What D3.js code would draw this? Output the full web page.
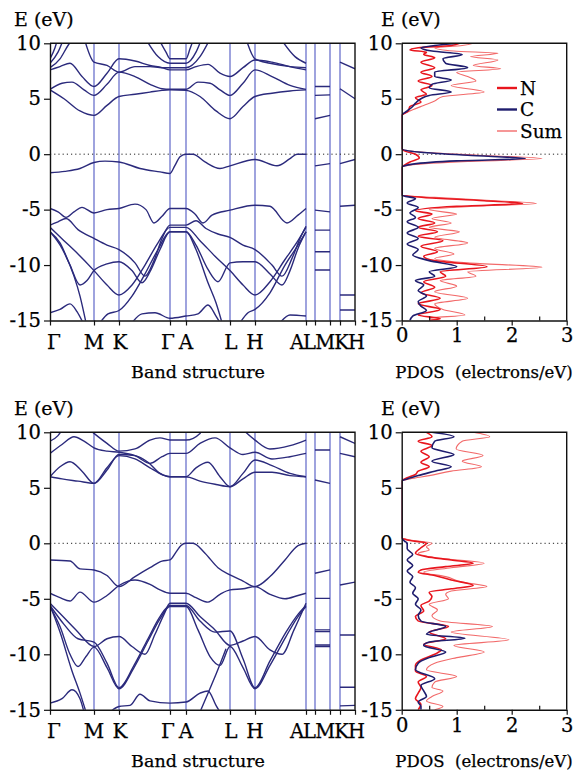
<!DOCTYPE html>
<html>
<head>
<meta charset="utf-8">
<script src="https://cdn.jsdelivr.net/npm/d3@7"></script>
<style>
  body { margin: 0; background: #fff; }
  text { font-family: "DejaVu Serif", "Liberation Serif", serif; fill: #000; stroke: #000; stroke-width: 0.25px; }
</style>
</head>
<body>
<svg id="fig" width="584" height="772"></svg>
<script>
// high-symmetry path (path coordinate of each point)
const kTicks = [0, 44, 69, 120, 136, 180, 205, 256, 265, 280, 290, 305];
const kLabels = ["Γ", "M", "K", "Γ", "A", "L", "H"];
const kLabelPos = [4, 44, 70, 118, 136, 181, 205];
const endLabel = "ALMKH";
const eTicks = [-15, -10, -5, 0, 5, 10];
const dosTicks = [0, 1, 2, 3];
const dosMinor = [0.5, 1.5, 2.5];

// band structure, upper panel: [k, E] per band piece
const topBands = [
  [[0,5.8],[14,5.0],[30,3.9],[44,3.5],[57,4.4],[69,5.2],[85,5.4],[100,5.6],[112,5.75],[120,5.8],[136,5.75],[150,5.2],[166,3.9],[180,3.2],[193,4.3],[205,5.2],[222,5.5],[240,5.7],[256,5.8]],
  [[0,5.85],[12,6.4],[22,6.5],[34,5.8],[44,5.3],[57,6.3],[69,7.4],[85,7.0],[100,6.3],[112,5.9],[120,5.85],[136,5.85],[148,6.5],[160,6.4],[170,5.8],[180,5.3],[193,6.4],[205,7.6],[222,7.0],[240,6.2],[256,5.85]],
  [[0,7.6],[10,7.9],[20,8.2],[32,7.0],[44,6.1],[57,7.3],[69,8.6],[85,8.4],[100,8.0],[112,7.8],[120,7.6],[136,7.6],[146,7.9],[158,8.1],[170,7.3],[180,7.0],[193,7.8],[205,8.5],[222,8.3],[240,7.9],[256,7.6]],
  [[0,7.8],[10,8.6],[18,9.8],[24,10.5]],
  [[34,10.5],[44,8.3],[57,8.0],[69,7.4],[85,7.9],[100,7.9],[112,7.8],[120,7.8],[136,7.8],[150,8.8],[160,10.4]],
  [[196,10.4],[205,8.6],[220,8.2],[240,7.9],[256,7.8]],
  [[0,8.2],[8,9.2],[14,10.5]],
  [[95,10.5],[108,8.8],[120,8.2],[136,8.2],[146,9.2],[152,10.5]],
  [[230,10.5],[245,8.8],[256,8.2]],
  [[0,8.6],[5,9.6],[8,10.5]],
  [[108,10.5],[116,9.2],[120,8.6],[136,8.6],[140,9.5],[144,10.5]],
  [[0,-1.68],[15,-1.55],[30,-1.29],[44,-0.75],[55,-0.63],[69,-0.7],[90,-1.29],[110,-1.6],[120,-1.74],[125,-1.0],[130,-0.24],[136,0],[143,0],[155,-0.7],[170,-1.29],[180,-1.05],[205,-0.48],[227,-1.05],[240,-0.4],[247,0],[256,0]],
  [[0,-4.9],[8,-5.2],[16,-5.7],[24,-5.2],[32,-4.8],[44,-5.3],[57,-5.0],[69,-4.9],[85,-4.5],[96,-5.0],[104,-6.2],[112,-5.6],[120,-4.9],[136,-4.9],[145,-5.4],[153,-6.2],[162,-5.5],[180,-5.05],[205,-4.6],[220,-4.7],[237,-6.2],[248,-5.5],[256,-4.9]],
  [[0,-6.4],[8,-6.1],[16,-5.8],[28,-6.8],[44,-7.6],[57,-8.2],[69,-8.6],[85,-9.8],[95,-11.0],[104,-9.6],[112,-7.6],[120,-6.4],[136,-6.4],[146,-6.0],[156,-6.7],[168,-7.2],[180,-7.5],[193,-8.2],[205,-8.6],[222,-10.0],[232,-11.0],[242,-9.4],[250,-7.6],[256,-6.5]],
  [[0,-7.0],[10,-8.0],[20,-10.0],[30,-11.8],[37,-11.4],[44,-10.5],[57,-9.9],[69,-9.7],[82,-10.5],[92,-11.6],[100,-10.6],[110,-8.6],[120,-7.0],[136,-7.0],[146,-8.2],[158,-10.4],[168,-11.5],[180,-9.8],[193,-9.7],[205,-9.7],[220,-10.8],[232,-11.8],[240,-10.5],[248,-8.5],[256,-7.0]],
  [[0,-6.6],[14,-7.8],[28,-9.0],[44,-10.5],[57,-11.8],[69,-12.7],[82,-11.8],[95,-10.0],[108,-8.0],[120,-6.6],[136,-6.6],[150,-7.8],[165,-9.2],[180,-10.5],[193,-11.8],[205,-12.7],[220,-11.5],[235,-9.5],[248,-7.8],[256,-6.6]],
  [[0,-7.0],[12,-8.5],[24,-11.0],[30,-12.8],[36,-15.2]],
  [[50,-15.2],[58,-14.4],[69,-14.1],[82,-12.8],[95,-10.8],[108,-8.6],[120,-7.0],[136,-7.0],[146,-8.6],[158,-11.6],[166,-13.4],[172,-15.2]],
  [[190,-15.2],[198,-14.3],[205,-14.0],[220,-12.5],[235,-10.0],[248,-8.2],[256,-7.0]],
  [[0,-14.3],[10,-14.0],[20,-13.5],[27,-14.2],[33,-15.2]],
  [[82,-15.2],[92,-14.4],[105,-14.3],[120,-14.8],[136,-14.6],[148,-14.4],[158,-13.6],[166,-14.6],[170,-15.2]],
  [[230,-15.2],[240,-14.5],[256,-14.6]],
  // A|L-M and K-H pieces
  [[265,6.1],[280,6.1]], [[265,5.3],[280,5.35]], [[265,3.2],[280,3.5]], [[265,-1.05],[280,-0.85]],
  [[265,-5.05],[280,-5.2]], [[265,-6.85],[280,-6.85]], [[265,-8.8],[280,-8.8]], [[265,-10.45],[280,-10.45]],
  [[290,8.3],[305,7.7]], [[290,5.9],[305,5.0]], [[290,-0.85],[305,-0.48]], [[290,-4.7],[305,-4.6]],
  [[290,-12.7],[305,-12.7]], [[290,-14.05],[305,-14.05]]
];

// band structure, lower panel
const botBands = [
  [[0,6.0],[12,5.8],[28,5.6],[44,5.4],[57,6.6],[69,8.0],[85,7.9],[98,7.3],[110,6.3],[120,6.0],[136,6.0],[150,5.6],[166,5.3],[180,5.1],[193,6.3],[205,7.5],[222,7.0],[240,6.3],[256,6.0]],
  [[0,6.0],[10,6.9],[20,7.35],[32,6.5],[44,5.4],[57,6.8],[69,7.9],[85,7.6],[100,6.8],[112,6.2],[120,6.0],[136,6.0],[146,6.8],[158,7.3],[170,6.0],[180,5.1],[193,5.8],[205,6.4],[222,6.4],[240,6.1],[256,6.0]],
  [[0,8.1],[12,8.9],[24,9.6],[34,9.2],[44,8.6],[57,8.3],[69,8.2],[85,7.9],[100,7.2],[112,7.8],[120,8.1],[136,8.1],[150,9.0],[165,9.5],[180,8.6],[193,8.0],[205,8.2],[222,7.6],[240,7.8],[256,8.1]],
  [[0,9.2],[8,9.7],[14,10.5]],
  [[36,10.5],[44,9.9],[57,9.0],[69,8.3],[85,8.5],[100,9.3],[110,9.5],[120,9.3],[136,9.3],[150,9.9],[155,10.5]],
  [[190,10.5],[205,9.3],[220,8.5],[240,8.8],[256,9.3]],
  [[0,-1.5],[20,-1.6],[30,-2.3],[44,-2.4],[57,-2.9],[69,-3.9],[85,-3.0],[100,-2.2],[112,-1.6],[120,-1.5],[126,-0.8],[131,-0.2],[136,0],[143,0],[155,-0.9],[168,-2.2],[180,-2.85],[193,-3.4],[205,-3.9],[220,-3.0],[235,-1.5],[248,-0.2],[256,0]],
  [[0,-4.5],[10,-4.9],[20,-5.2],[30,-4.4],[44,-5.3],[57,-4.7],[69,-3.8],[85,-3.3],[100,-3.7],[110,-4.2],[120,-4.5],[136,-4.5],[146,-4.9],[158,-5.3],[170,-4.6],[180,-4.2],[193,-4.1],[205,-3.9],[220,-4.6],[235,-5.0],[248,-4.7],[256,-4.5]],
  [[0,-5.4],[12,-6.5],[26,-7.8],[44,-9.3],[57,-8.6],[69,-8.4],[82,-9.3],[95,-10.0],[105,-8.2],[114,-6.4],[120,-5.4],[136,-5.4],[150,-6.6],[165,-7.8],[180,-9.2],[193,-8.8],[205,-8.4],[220,-9.6],[232,-10.0],[244,-7.8],[256,-5.4]],
  [[0,-5.6],[14,-7.3],[28,-8.6],[44,-8.9],[57,-10.8],[69,-13.0],[84,-11.0],[98,-8.6],[110,-6.6],[120,-5.6],[136,-5.6],[150,-7.0],[165,-8.0],[180,-7.9],[193,-10.4],[205,-13.0],[220,-10.6],[236,-8.0],[248,-6.4],[256,-5.6]],
  [[0,-5.7],[10,-7.5],[20,-10.0],[28,-11.1],[36,-10.2],[44,-9.35],[57,-11.2],[69,-13.1],[84,-11.2],[98,-8.8],[110,-6.8],[120,-5.7],[136,-5.7],[148,-7.8],[160,-10.2],[170,-11.0],[180,-9.3],[193,-11.2],[205,-13.1],[220,-11.0],[236,-8.4],[248,-6.6],[256,-5.7]],
  [[0,-5.6],[10,-8.0],[22,-11.5],[30,-13.5],[36,-15.2]],
  [[150,-15.2],[158,-13.5],[166,-11.8],[176,-9.5]],
  [[0,-14.4],[12,-14.0],[22,-13.2],[30,-14.0],[34,-15.2]],
  [[60,-15.2],[69,-14.7],[80,-14.6],[90,-13.6],[100,-14.2],[120,-14.4],[136,-14.3],[150,-13.5],[158,-13.3],[166,-14.6],[170,-15.2]],
  [[265,8.4],[280,8.4]], [[265,5.7],[280,5.4]], [[265,-2.7],[280,-2.4]], [[265,-4.96],[280,-4.96]],
  [[265,-7.8],[280,-7.8]], [[265,-7.96],[280,-7.96]], [[265,-9.16],[280,-9.16]], [[265,-9.3],[280,-9.3]],
  [[290,9.6],[305,9.0]], [[290,8.1],[305,7.8]], [[290,-3.76],[305,-3.5]], [[290,-8.26],[305,-8.26]],
  [[290,-12.97],[305,-12.97]], [[290,-14.65],[305,-14.6]]
];

// PDOS upper panel: [E, states]
const topN = [[10,1.05],[9.8,0.9],[9.6,0.3],[9.4,0.15],[9.2,0.45],[9.0,0.4],[8.7,0.6],[8.3,0.35],[7.8,0.6],[7.4,0.35],[7.0,0.55],[6.6,0.3],[6.2,0.55],[5.8,0.35],[5.4,0.45],[5.1,0.25],[4.7,0.35],[4.3,0.15],[3.9,0.12],[3.5,0],[0.5,0],[0.3,0.05],[0.0,0.25],[-0.35,0.32],[-0.7,0.15],[-1.0,0.05],[-1.2,0],[-3.7,0],[-3.9,0.4],[-4.2,1.5],[-4.45,2.2],[-4.7,1.0],[-5.1,0.25],[-5.4,0.55],[-5.8,0.3],[-6.2,0.6],[-6.6,0.3],[-7.0,0.65],[-7.4,0.3],[-7.8,0.75],[-8.3,0.35],[-8.8,0.65],[-9.2,0.4],[-9.6,0.6],[-10.15,1.55],[-10.6,0.7],[-11.0,0.8],[-11.5,0.4],[-12.0,0.6],[-12.5,0.35],[-13.0,0.7],[-13.5,0.3],[-14.0,0.7],[-14.5,0.3],[-14.85,0.7],[-15,0.5]];
const topC = [[10,1.0],[9.8,0.6],[9.6,0.35],[9.3,0.55],[9.0,1.1],[8.6,0.75],[8.2,0.8],[7.8,1.2],[7.4,0.6],[7.0,0.6],[6.7,0.9],[6.3,0.55],[6.0,0.5],[5.6,0.9],[5.3,0.5],[5.0,0.35],[4.6,0.25],[4.3,0.2],[3.9,0.1],[3.5,0],[0.5,0],[0.2,0.3],[-0.1,1.2],[-0.4,2.25],[-0.6,1.0],[-0.9,0.2],[-1.2,0],[-3.7,0],[-4.0,0.25],[-4.4,0.1],[-4.8,0.3],[-5.3,0.15],[-5.7,0.25],[-6.1,0.1],[-6.6,0.3],[-7.1,0.1],[-7.6,0.3],[-8.1,0.1],[-8.6,0.3],[-9.1,0.2],[-9.6,0.5],[-10.15,1.0],[-10.6,0.5],[-11.0,0.6],[-11.4,0.25],[-11.8,0.4],[-12.3,0.3],[-12.8,0.45],[-13.3,0.3],[-13.7,0.35],[-14.1,0.45],[-14.6,0.2],[-15,0.15]];
const topSum = [[10,1.3],[9.8,1.1],[9.6,0.6],[9.3,0.95],[9.1,1.75],[8.8,1.25],[8.5,1.75],[8.0,1.3],[7.7,1.8],[7.4,1.0],[7.0,1.2],[6.6,1.35],[6.2,0.9],[5.6,1.5],[5.2,0.75],[4.8,0.6],[4.4,0.4],[4.0,0.2],[3.5,0],[0.5,0],[0.2,0.35],[-0.1,1.4],[-0.4,2.55],[-0.65,1.2],[-0.95,0.2],[-1.2,0],[-3.7,0],[-3.9,0.6],[-4.2,1.7],[-4.45,2.45],[-4.7,1.3],[-5.0,0.5],[-5.4,1.0],[-5.8,0.55],[-6.2,0.9],[-6.6,0.5],[-7.0,1.05],[-7.5,0.6],[-8.0,1.2],[-8.5,0.6],[-9.0,0.95],[-9.4,0.6],[-9.8,1.2],[-10.2,2.55],[-10.6,1.2],[-11.0,1.35],[-11.4,0.7],[-11.9,1.0],[-12.4,0.6],[-13.0,1.2],[-13.5,0.6],[-14.0,0.75],[-14.5,1.15],[-14.8,0.5],[-15,0.7]];

// PDOS lower panel
const botN = [[10,0.45],[9.6,0.55],[9.2,0.3],[8.8,0.55],[8.3,0.35],[7.8,0.5],[7.3,0.35],[6.9,0.5],[6.5,0.3],[6.2,0.25],[5.9,0.1],[5.6,0],[0.5,0],[0.3,0.1],[0.0,0.45],[-0.4,0.35],[-0.9,0.25],[-1.2,0.45],[-1.5,0.9],[-1.8,1.3],[-2.1,0.8],[-2.4,0.35],[-2.6,0.3],[-2.9,0.6],[-3.3,0.9],[-3.8,1.3],[-4.1,0.9],[-4.4,0.5],[-4.8,0.55],[-5.2,0.5],[-5.6,0.35],[-6.1,0.4],[-6.6,0.25],[-7.0,0.3],[-7.5,0.85],[-8.0,0.5],[-8.6,0.8],[-9.1,0.4],[-9.6,0.72],[-10.0,0.6],[-10.5,0.35],[-11.0,0.25],[-11.5,0.25],[-12.0,0.45],[-12.5,0.3],[-13.0,0.35],[-13.5,0.3],[-14.0,0.25],[-14.5,0.35],[-15,0.3]];
const botC = [[10,0.55],[9.6,0.95],[9.2,0.6],[8.6,0.55],[8.0,0.95],[7.4,0.55],[6.9,0.9],[6.5,0.6],[6.1,0.3],[5.8,0.1],[5.6,0],[0.5,0],[0.2,0.05],[0.0,0.1],[-0.5,0.1],[-1.0,0.2],[-1.5,0.1],[-2.0,0.2],[-2.5,0.1],[-3.0,0.2],[-3.5,0.15],[-4.0,0.25],[-4.5,0.2],[-5.0,0.3],[-5.5,0.25],[-6.0,0.35],[-6.5,0.3],[-7.0,0.35],[-7.5,0.8],[-8.0,0.5],[-8.2,0.45],[-8.55,1.15],[-8.9,0.5],[-9.2,0.4],[-9.8,0.8],[-10.3,0.5],[-10.8,0.3],[-11.4,0.25],[-12.2,0.6],[-12.8,0.35],[-13.3,0.4],[-13.8,0.45],[-14.3,0.3],[-14.7,0.35],[-15,0.35]];
const botSum = [[10,1.3],[9.6,1.6],[9.2,1.1],[8.5,0.99],[7.9,1.48],[7.4,1.1],[6.9,1.45],[6.5,0.9],[6.1,0.5],[5.8,0.15],[5.6,0],[0.5,0],[0.3,0.15],[0.0,0.55],[-0.3,0.45],[-0.6,0.5],[-0.9,0.3],[-1.3,0.6],[-1.8,1.5],[-2.2,0.9],[-2.6,0.4],[-3.0,0.8],[-3.5,1.1],[-3.9,1.55],[-4.3,0.9],[-4.6,0.8],[-5.0,0.85],[-5.5,0.5],[-6.0,0.65],[-6.5,0.55],[-7.0,0.7],[-7.5,1.65],[-8.0,0.9],[-8.7,1.95],[-9.2,0.95],[-9.8,1.5],[-10.3,1.0],[-10.8,0.6],[-11.4,0.45],[-12.0,1.0],[-12.5,0.6],[-13.0,0.55],[-13.3,0.75],[-13.8,0.55],[-14.2,0.45],[-14.7,0.75],[-15,0.6]];

const legendNames = ["N", "C", "Sum"];

const svg = d3.select("#fig");
const bandCol = "#2b2a7c", symCol = "#6b72cc";
const nCol = "#e8161e", cCol = "#1f1d6e", sumCol = "#f26a6a";

const kx = d3.scaleLinear().domain([0, 305]).range([50, 355]);
const dx = d3.scaleLinear().domain([0, 3]).range([401.7, 566.7]);

const panels = [
  { y0: 43.3, y1: 320.5, bands: topBands, pdos: [topSum, topN, topC], legend: true },
  { y0: 432.3, y1: 709.8, bands: botBands, pdos: [botSum, botN, botC], legend: false }
];

panels.forEach((p, i) => {
  const ey = d3.scaleLinear().domain([-15, 10]).range([p.y1, p.y0]);
  const g = svg.append("g");

  // clip areas
  g.append("clipPath").attr("id", "cb" + i).append("rect")
    .attr("x", kx(0)).attr("y", ey(10)).attr("width", kx(305) - kx(0)).attr("height", ey(-15) - ey(10));
  g.append("clipPath").attr("id", "cp" + i).append("rect")
    .attr("x", dx(0)).attr("y", ey(10)).attr("width", dx(3) - dx(0)).attr("height", ey(-15) - ey(10));

  // ---- band structure ----
  g.selectAll(".sym").data(kTicks.slice(1, -1)).enter().append("line")
    .attr("x1", d => kx(d)).attr("x2", d => kx(d))
    .attr("y1", ey(10)).attr("y2", ey(-15))
    .attr("stroke", symCol).attr("stroke-width", 1.3);

  g.append("line").attr("x1", kx(0)).attr("x2", kx(305)).attr("y1", ey(0)).attr("y2", ey(0))
    .attr("stroke", "#222").attr("stroke-width", 1).attr("stroke-dasharray", "1.2,3");

  const bandLine = d3.line().x(d => kx(d[0])).y(d => ey(d[1])).curve(d3.curveMonotoneX);
  g.append("g").attr("clip-path", `url(#cb${i})`)
    .selectAll("path").data(p.bands).enter().append("path")
    .attr("d", bandLine).attr("fill", "none")
    .attr("stroke", bandCol).attr("stroke-width", 1.4);

  // frame
  g.append("path")
    .attr("d", `M${kx(0)},${ey(10)}H${kx(305)}V${ey(-15)}`)
    .attr("fill", "none").attr("stroke", "#111").attr("stroke-width", 1.4);

  g.append("g").attr("transform", `translate(${kx(0)},0)`)
    .call(d3.axisLeft(ey).tickValues(eTicks).tickSize(6).tickSizeOuter(0).tickFormat(d => String(d)));
  g.append("g").attr("transform", `translate(0,${ey(-15)})`)
    .call(d3.axisBottom(kx).tickValues(kTicks).tickSize(5).tickSizeOuter(0).tickFormat(""));

  g.selectAll(".klab").data(kLabels).enter().append("text")
    .attr("x", (d, j) => kx(kLabelPos[j])).attr("y", ey(-15) + 28)
    .attr("text-anchor", "middle").attr("font-size", 20).text(d => d);
  g.append("text").attr("x", 364).attr("y", ey(-15) + 28)
    .attr("text-anchor", "end").attr("font-size", 19.5).attr("letter-spacing", -0.9).text(endLabel);

  g.append("text").attr("x", 198).attr("y", ey(-15) + 57)
    .attr("text-anchor", "middle").attr("font-size", 17.5).text("Band structure");
  g.append("text").attr("x", 14).attr("y", ey(10) - 17)
    .attr("font-size", 19).text("E (eV)");

  // ---- PDOS ----
  g.append("line").attr("x1", dx(0)).attr("x2", dx(3)).attr("y1", ey(0)).attr("y2", ey(0))
    .attr("stroke", "#222").attr("stroke-width", 1).attr("stroke-dasharray", "1.2,3");

  const dosLine = d3.line().x(d => dx(d[1])).y(d => ey(d[0])).curve(d3.curveMonotoneY);
  const cols = [sumCol, nCol, cCol], widths = [1.1, 1.6, 1.6];
  g.append("g").attr("clip-path", `url(#cp${i})`)
    .selectAll("path").data(p.pdos).enter().append("path")
    .attr("d", dosLine).attr("fill", "none")
    .attr("stroke", (d, j) => cols[j]).attr("stroke-width", (d, j) => widths[j]);

  g.append("path")
    .attr("d", `M${dx(0)},${ey(10)}H${dx(3)}V${ey(-15)}`)
    .attr("fill", "none").attr("stroke", "#111").attr("stroke-width", 1.4);

  g.append("g").attr("transform", `translate(${dx(0)},0)`)
    .call(d3.axisLeft(ey).tickValues(eTicks).tickSize(6).tickSizeOuter(0).tickFormat(d => String(d)));
  g.append("g").attr("transform", `translate(0,${ey(-15)})`)
    .call(d3.axisBottom(dx).tickValues(dosTicks).tickSize(5).tickSizeOuter(0).tickFormat(d => String(d)));
  g.append("g").attr("transform", `translate(0,${ey(-15)})`)
    .call(d3.axisTop(dx).tickValues(dosMinor).tickSize(4).tickSizeOuter(0).tickFormat(""))
    .select(".domain").remove();

  g.append("text").attr("x", 484).attr("y", ey(-15) + 57)
    .attr("text-anchor", "middle").attr("font-size", 16.5).attr("xml:space", "preserve")
    .text("PDOS  (electrons/eV)");
  g.append("text").attr("x", 381).attr("y", ey(10) - 17)
    .attr("font-size", 19).text("E (eV)");

  if (p.legend) {
    const lg = g.append("g");
    legendNames.forEach((name, j) => {
      const yy = 88 + j * 21.5;
      lg.append("line").attr("x1", 497).attr("x2", 517).attr("y1", yy).attr("y2", yy)
        .attr("stroke", [nCol, cCol, sumCol][j]).attr("stroke-width", j < 2 ? 2.4 : 1.4);
      lg.append("text").attr("x", 520).attr("y", yy + 6.5).attr("font-size", 18.5).text(name);
    });
  }
});

svg.selectAll(".domain").attr("stroke", "#111").attr("stroke-width", 1.4);
svg.selectAll(".tick line").attr("stroke", "#111").attr("stroke-width", 1.2);
svg.selectAll(".tick text").attr("font-size", 19.5).attr("font-family", '"DejaVu Serif", serif').attr("fill", "#000");
</script>
</body>
</html>
